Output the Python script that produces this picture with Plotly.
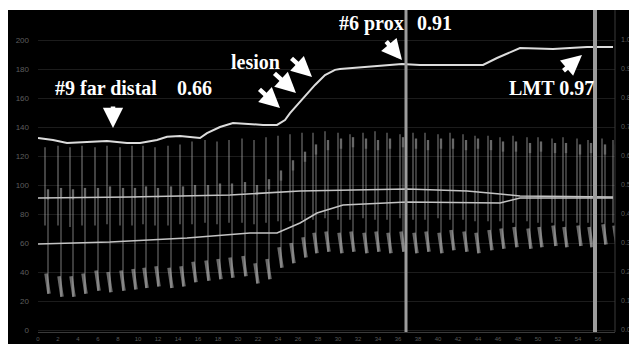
import plotly.graph_objects as go

# ---------------- data (read from the pullback recording) ----------------
# time axis (s-like units), FFR (Pd/Pa) pullback curve
ffr_t = [0, 1.5, 2.9, 4.5, 6.9, 8.9, 10.2, 11.9, 12.9, 14.2, 15.2, 16.2, 16.9, 18.2,
         19.5, 21.2, 22.5, 23.9, 24.7, 25.2, 26.2, 27.7, 28.7, 29.7, 30.2, 33.2,
         36.4, 38.2, 44.5, 45.9, 48.2, 51.5, 54.9, 57.5]
ffr = [0.662, 0.655, 0.645, 0.648, 0.652, 0.645, 0.645, 0.655, 0.666, 0.669, 0.666,
       0.662, 0.679, 0.700, 0.714, 0.710, 0.707, 0.707, 0.724, 0.748, 0.786, 0.845,
       0.879, 0.897, 0.900, 0.907, 0.917, 0.914, 0.914, 0.938, 0.972, 0.969, 0.976, 0.976]

# mean aortic pressure (Pa) and mean distal pressure (Pd), mmHg
pa_t = [0, 9.2, 19.2, 26.2, 36.9, 42.9, 46.2, 48.2, 57.5]
pa_mean = [91.0, 91.7, 93.1, 95.9, 97.2, 95.9, 93.8, 92.4, 91.7]
pd_t = [0, 7.2, 14.9, 21.2, 23.9, 26.2, 27.9, 30.5, 36.9, 46.2, 48.2, 57.5]
pd_mean = [59.3, 60.7, 63.4, 66.9, 66.9, 73.8, 80.7, 86.2, 88.3, 87.6, 91.0, 91.0]

# phasic beats
beat_t = [0.7, 2.0, 3.2, 4.4, 5.7, 6.9, 8.2, 9.4, 10.5, 11.7, 13.0, 14.2, 15.4, 16.7,
          17.9, 19.1, 20.4, 21.6, 22.8, 24.0, 25.2, 26.4, 27.5, 28.7, 30.0, 31.2,
          32.5, 33.7, 34.9, 36.2, 37.5, 38.7, 40.0, 41.2, 42.5, 43.7, 45.0, 46.2,
          47.5, 48.9, 50.0, 51.4, 52.5, 53.9, 55.0, 56.4, 57.5]
pa_sys = [126, 127, 126, 127, 126, 127, 126, 127, 127, 126, 127, 128,
          130, 131, 130, 131, 132, 131, 133, 134, 135,
          136, 136, 137, 136, 135, 136, 137, 136, 135, 136, 136, 135, 136, 135, 134, 134,
          133, 134, 133, 133, 132, 133, 132, 131, 132, 131]
pa_dia = [72, 72, 71, 72, 72, 73, 72, 72, 73, 72, 72, 73, 73, 74, 73, 74,
          74, 73, 74, 75, 75, 76, 76, 77, 76, 76, 77, 76, 76, 77, 76, 76,
          77, 76, 76, 75, 75, 75, 74, 75, 74, 74, 75, 74, 74, 74, 74]
pd_sys = [97, 98, 97, 98, 98, 99, 98, 98, 99, 98, 99, 99, 100, 100, 101, 101, 102, 100,
          104, 110, 117, 123, 128,
          131, 132, 133, 132, 131, 132, 133, 132, 131, 132, 132, 131, 132, 131, 130, 130,
          129, 130, 129, 129, 128, 129, 128, 128]
pd_dia = [25, 23, 23, 25, 27, 26, 27, 28, 29, 30, 29, 30, 33, 34, 35, 36, 37, 32, 35,
          43, 46, 50, 53, 54, 53, 54, 53, 54, 53, 54, 53, 54, 53, 55, 54, 53, 55, 56,
          57, 56, 57, 58, 57, 58, 57, 59, 58]

y_ticks = [0, 20, 40, 60, 80, 100, 120, 140, 160, 180, 200]
ffr_ticks = [0.0, 0.1, 0.2, 0.3, 0.4, 0.5, 0.6, 0.7, 0.8, 0.9, 1.0]
x_ticks = list(range(0, 58, 2))
marker_t = [36.8, 55.7]

# ---------------- build phasic strokes ----------------
pa_x, pa_y, pd_x, pd_y, bl_x, bl_y, pk_x, pk_y = [], [], [], [], [], [], [], []
for t, s, d in zip(beat_t, pa_sys, pa_dia):
    pa_x += [t, t, None]
    pa_y += [d, s, None]
for t, s, d in zip(beat_t, pd_sys, pd_dia):
    pd_x += [t + 0.3, t + 0.3, None]
    pd_y += [d, s, None]
    bl_x += [t + 0.1, t + 0.4, None]
    bl_y += [d + 14, d, None]
    pk_x += [t + 0.3, t + 0.3, None]
    pk_y += [s - 7, s, None]

fig = go.Figure()
fig.add_trace(go.Scatter(x=pa_x, y=pa_y, mode="lines", line=dict(color="rgba(190,190,190,0.5)", width=1.4),
                         hoverinfo="skip", showlegend=False))
fig.add_trace(go.Scatter(x=pd_x, y=pd_y, mode="lines", line=dict(color="rgba(190,190,190,0.45)", width=1.4),
                         hoverinfo="skip", showlegend=False))
fig.add_trace(go.Scatter(x=pk_x, y=pk_y, mode="lines", line=dict(color="rgba(205,205,205,0.3)", width=2.5),
                         hoverinfo="skip", showlegend=False))
fig.add_trace(go.Scatter(x=bl_x, y=bl_y, mode="lines", line=dict(color="rgba(210,210,210,0.5)", width=3.5),
                         hoverinfo="skip", showlegend=False))
fig.add_trace(go.Scatter(x=pa_t, y=pa_mean, mode="lines", line=dict(color="#c4c4c4", width=1.6),
                         showlegend=False))
fig.add_trace(go.Scatter(x=pd_t, y=pd_mean, mode="lines", line=dict(color="#c4c4c4", width=1.6),
                         showlegend=False))
fig.add_trace(go.Scatter(x=ffr_t, y=ffr, mode="lines", line=dict(color="#dcdcdc", width=2),
                         yaxis="y2", showlegend=False))

# ---------------- layout ----------------
y_lo, y_hi = -1.38, 206.9
tick_font = dict(family="Liberation Sans", size=8, color="#5e5e5e")
fig.update_layout(
    width=629, height=336,
    margin=dict(l=30, r=22, t=22, b=12, autoexpand=False),
    paper_bgcolor="black", plot_bgcolor="black",
    xaxis=dict(range=[0, 57.7], tickvals=x_ticks, ticktext=[str(v) for v in x_ticks],
               showgrid=False, zeroline=False, showline=True, linecolor="#3a3a3a", linewidth=1,
               ticks="", tickfont=dict(family="Liberation Sans", size=6, color="#5a5a5a"),
               ticklabelstandoff=1, automargin=False),
    yaxis=dict(range=[y_lo, y_hi], tickvals=y_ticks, ticktext=[str(v) for v in y_ticks],
               showgrid=True, gridcolor="#1c1c1c", gridwidth=1, zeroline=False,
               ticks="", tickfont=tick_font, ticklabelstandoff=8, automargin=False),
    yaxis2=dict(range=[y_lo / 200, y_hi / 200], overlaying="y", side="right",
                tickvals=ffr_ticks, ticktext=["%.1f" % v for v in ffr_ticks],
                showgrid=False, zeroline=False, ticks="",
                tickfont=dict(family="Liberation Sans", size=7, color="#5e5e5e"),
                ticklabelstandoff=5, automargin=False),
)

shapes = []
for t, w in zip(marker_t, [3, 4]):
    shapes.append(dict(type="line", xref="x", yref="paper", x0=t, x1=t, y0=0, y1=1.066,
                       line=dict(color="#9c9c9c", width=w), layer="above"))
shapes.append(dict(type="line", xref="paper", yref="paper", x0=1, x1=1, y0=0, y1=1.066,
                   line=dict(color="#3a3a3a", width=1)))
# thin white strip at the very top
shapes.append(dict(type="rect", xref="paper", yref="paper", x0=-0.1, x1=1.1, y0=1.0662, y1=1.2,
                   fillcolor="white", line=dict(width=0), layer="above"))
fig.update_layout(shapes=shapes)

lab_font = dict(family="Liberation Serif", size=20, color="white")
texts = [("#9 far distal", 0.026, 0.808), ("0.66", 0.2374, 0.808), ("lesion", 0.331, 0.894),
         ("#6 prox", 0.518, 1.023), ("0.91", 0.653, 1.023), ("LMT 0.97", 0.8128, 0.808)]
annotations = []
for txt, xp, yp in texts:
    annotations.append(dict(text="<b>%s</b>" % txt, x=xp, y=yp, xref="paper", yref="paper",
                            xanchor="left", yanchor="middle", showarrow=False, font=lab_font))
arrows = [(0.13, 0.6755, 0, -23), (0.4194, 0.7417, -22, -20), (0.4471, 0.7914, -23, -21),
          (0.4749, 0.8444, -22, -20), (0.6308, 0.9007, -17, -20), (0.9428, 0.9172, -20, 17)]
for xp, yp, ax, ay in arrows:
    annotations.append(dict(text="", x=xp, y=yp, xref="paper", yref="paper", ax=ax, ay=ay,
                            showarrow=True, arrowhead=2, arrowsize=0.9, arrowwidth=4.5,
                            arrowcolor="white", standoff=0))
fig.update_layout(annotations=annotations)

fig.write_html("out.html")
